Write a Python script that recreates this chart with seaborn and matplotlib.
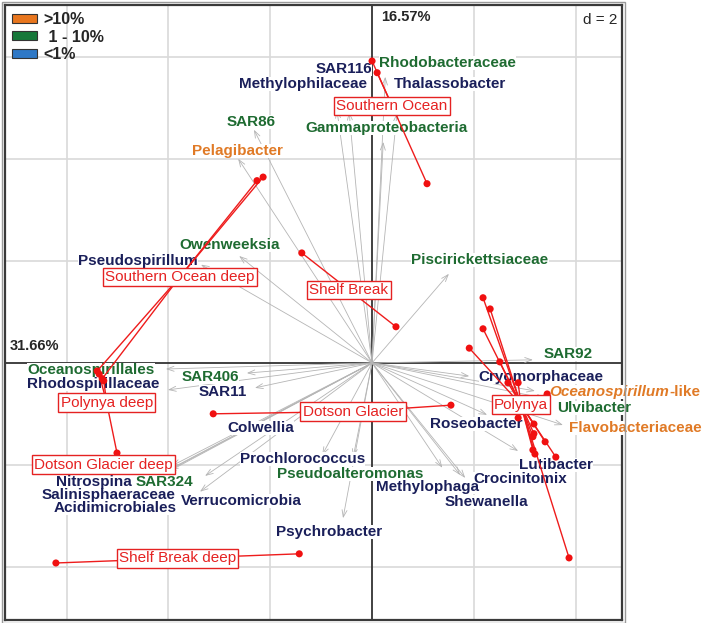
import numpy as np
import pandas as pd
import matplotlib
matplotlib.use("Agg")
import matplotlib.pyplot as plt
import seaborn as sns
from matplotlib.patches import Patch, Rectangle
from matplotlib.offsetbox import TextArea, HPacker, AnnotationBbox

# ---------------------------
# 1. Data (PCA scores, grid step d = 2)
# ---------------------------
taxa = ["SAR116", "Methylophilaceae", "Rhodobacteraceae", "Thalassobacter",
        "Gammaproteobacteria", "SAR86", "Pelagibacter", "Owenweeksia",
        "Pseudospirillum", "Piscirickettsiaceae", "Oceanospirillales",
        "Rhodospirillaceae", "SAR406", "SAR11", "SAR92", "Cryomorphaceae",
        "Oceanospirillum-like", "Ulvibacter", "Roseobacter", "Flavobacteriaceae",
        "Lutibacter", "Crocinitomix", "Shewanella", "Methylophaga",
        "Prochlorococcus", "Pseudoalteromonas", "Colwellia", "Verrucomicrobia",
        "Nitrospina", "SAR324", "Salinisphaeraceae", "Acidimicrobiales",
        "Psychrobacter"]
abundance = ["<1%", "<1%", "1 - 10%", "<1%",
             "1 - 10%", "1 - 10%", ">10%", "1 - 10%",
             "<1%", "1 - 10%", "1 - 10%",
             "<1%", "1 - 10%", "<1%", "1 - 10%", "<1%",
             ">10%", "1 - 10%", "<1%", ">10%",
             "<1%", "<1%", "<1%", "<1%",
             "<1%", "1 - 10%", "<1%", "<1%",
             "<1%", "1 - 10%", "<1%", "<1%",
             "<1%"]
# arrow tips
arrow_x = [-0.45, -0.69, 0.26, 0.49, 0.22, -2.32, -2.63, -2.61, -3.36, 1.51,
           -4.05, -4.01, -2.46, -2.30, 3.16, 1.91, 3.20, 3.40, 2.26, 3.75,
           2.87, 1.83, 1.73, 1.38, -0.98, -0.37, -3.28, -3.38, -3.97, -4.11,
           -3.93, -4.01, -0.57]
arrow_y = [4.93, 4.97, 5.62, 4.91, 4.34, 4.58, 4.01, 2.10, 1.93, 1.75,
           -0.12, -0.53, -0.20, -0.49, 0.06, -0.26, -0.55, -0.70, -1.02, -1.22,
           -1.73, -2.26, -2.20, -2.06, -1.81, -1.85, -2.22, -2.53, -2.10, -2.16,
           -2.02, -2.14, -3.05]
# label centres
label_x = [-0.55, -1.36, 1.49, 1.53, 0.28, -2.38, -2.65, -2.79, -4.60, 2.12,
           -5.52, -5.48, -3.18, -2.93, 3.85, 3.32, 4.97, 4.36, 2.04, 5.17,
           3.61, 2.91, 2.24, 1.08, -1.36, -0.43, -2.18, -2.57, -5.46, -4.07,
           -5.17, -5.05, -0.84]
label_y = [5.78, 5.48, 5.89, 5.48, 4.62, 4.73, 4.17, 2.32, 2.00, 2.02,
           -0.14, -0.41, -0.28, -0.57, 0.18, -0.28, -0.57, -0.88, -1.20, -1.28,
           -2.00, -2.28, -2.73, -2.44, -1.89, -2.19, -1.28, -2.71, -2.34, -2.34,
           -2.59, -2.85, -3.32]

site_group = (["Southern Ocean"] * 3 + ["Southern Ocean deep"] * 4
              + ["Shelf Break"] * 2 + ["Shelf Break deep"] * 2
              + ["Polynya"] * 17 + ["Polynya deep"] * 3
              + ["Dotson Glacier"] * 3 + ["Dotson Glacier deep"])
site_x = [0.00, 0.10, 1.08,
          -2.26, -2.14, -5.40, -5.30,
          -1.38, 0.47,
          -6.21, -1.43,
          2.18, 2.32, 2.18, 1.91, 2.51, 2.67, 2.87, 3.44, 2.87, 3.18, 3.18,
          3.16, 3.40, 3.61, 3.16, 3.20, 3.87,
          -5.36, -5.27, -5.01,
          -3.12, 1.55, 0.45,
          -5.27]
site_y = [5.93, 5.70, 3.52,
          3.58, 3.65, -0.16, -0.31,
          2.16, 0.71,
          -3.93, -3.75,
          1.28, 1.06, 0.67, 0.29, 0.02, -0.39, -0.39, -0.61, -1.08, -1.20, -1.39,
          -1.45, -1.55, -1.85, -1.71, -1.79, -3.83,
          -0.22, -0.35, -1.77,
          -1.00, -0.83, -1.04,
          -2.00]

legend_labels = [">10%", " 1 - 10%", "<1%"]
legend_fill = ["#E8761E", "#17783A", "#2E78C6"]
text_colors = {">10%": "#E07A26", "1 - 10%": "#1E6B31", "<1%": "#1A1F5A"}

taxa_df = pd.DataFrame({"taxon": taxa, "abund": abundance,
                        "ax": arrow_x, "ay": arrow_y,
                        "lx": label_x, "ly": label_y})
sites = pd.DataFrame({"group": site_group, "x": site_x, "y": site_y})
centres = sites.groupby("group", sort=False)[["x", "y"]].mean()

# ---------------------------
# 2. Plot
# ---------------------------
sns.set_style("white")
plt.rcParams["font.family"] = ["Liberation Sans", "DejaVu Sans"]

fig = plt.figure(figsize=(7.08, 6.23), dpi=100)
ax = fig.add_axes([5 / 708, 3 / 623, 617 / 708, 615 / 623])
ax.set_xlim(-7.21, 4.91)
ax.set_ylim(-5.05, 7.03)
ax.set_xticks([])
ax.set_yticks([])
for sp in ax.spines.values():
    sp.set_color("#3a3a3a")
    sp.set_linewidth(1.6)

# outer frame line
fig.patches.append(Rectangle((1.5 / 708, 0.5 / 623), 623 / 708, 621 / 623,
                             transform=fig.transFigure, fill=False,
                             edgecolor="#9a9a9a", linewidth=1.0))

for g in [-6, -4, -2, 2, 4]:
    ax.axvline(g, color="#d9d9d9", lw=1.2, zorder=0.5)
for g in [-4, -2, 2, 4, 6]:
    ax.axhline(g, color="#d9d9d9", lw=1.2, zorder=0.5)
ax.axvline(0, color="#333333", lw=1.3, zorder=1)
ax.axhline(0, color="#333333", lw=1.3, zorder=1)

# taxa arrows
for _, r in taxa_df.iterrows():
    ax.annotate("", xy=(r["ax"], r["ay"]), xytext=(0, 0),
                arrowprops=dict(arrowstyle="->,head_length=0.5,head_width=0.18",
                                color="#b5b5b5", lw=0.6,
                                shrinkA=0, shrinkB=0, mutation_scale=10),
                zorder=2)

# taxa labels: white backgrounds first, then the words on top
for _, r in taxa_df.iterrows():
    col = text_colors[r["abund"]]
    for layer, z in [("bg", 2.8), ("fg", 3.0)]:
        tc = (0, 0, 0, 0) if layer == "bg" else col
        if r["taxon"] == "Oceanospirillum-like":
            p1 = TextArea("Oceanospirillum", textprops=dict(color=tc, fontsize=11,
                                                           weight="bold", style="italic"))
            p2 = TextArea("-like", textprops=dict(color=tc, fontsize=11, weight="bold"))
            box = HPacker(children=[p1, p2], align="baseline", pad=0, sep=0)
            ab = AnnotationBbox(box, (r["lx"], r["ly"]), frameon=(layer == "bg"), pad=0.0,
                                bboxprops=dict(facecolor="white", edgecolor="none"),
                                annotation_clip=False, zorder=z)
            ax.add_artist(ab)
        elif layer == "bg":
            ax.text(r["lx"], r["ly"], r["taxon"], color=tc, fontsize=11, weight="bold",
                    ha="center", va="center", zorder=z, clip_on=False,
                    bbox=dict(boxstyle="square,pad=0", facecolor="white", edgecolor="none"))
        else:
            ax.text(r["lx"], r["ly"], r["taxon"], color=tc, fontsize=11, weight="bold",
                    ha="center", va="center", zorder=z, clip_on=False)

# sites: star lines to group centres
red = "#EE1C1C"
for _, r in sites.iterrows():
    cx, cy = centres.loc[r["group"]]
    ax.plot([cx, r["x"]], [cy, r["y"]], color=red, lw=1.0, zorder=4)
sns.scatterplot(data=sites, x="x", y="y", color="#F01010", s=26,
                edgecolor="none", ax=ax, zorder=5, legend=False)
ax.set_xlabel("")
ax.set_ylabel("")

for name, r in centres.iterrows():
    ax.text(r["x"], r["y"], name, color="#E52222", fontsize=11,
            ha="center", va="center", zorder=6,
            bbox=dict(boxstyle="square,pad=0.15", facecolor="white",
                      edgecolor="#E52222", linewidth=1.0))

# axis inertia labels and scale
ax.text(0.18, 6.80, "16.57%", fontsize=10.5, weight="bold", ha="left", va="center")
ax.text(-7.11, 0.33, "31.66%", fontsize=10.5, weight="bold", ha="left", va="center")
ax.text(0.992, 0.987, "d = 2", transform=ax.transAxes, fontsize=11,
        ha="right", va="top", zorder=3,
        bbox=dict(boxstyle="square,pad=0.1", facecolor="white", edgecolor="none"))

# abundance legend
handles = [Patch(facecolor=c, edgecolor="#333333", linewidth=0.8, label=l)
           for c, l in zip(legend_fill, legend_labels)]
ax.legend(handles=handles, loc="upper left", bbox_to_anchor=(0.012, 0.988),
          frameon=False, prop=dict(weight="bold", size=11.5),
          handlelength=1.55, handleheight=0.5, labelspacing=0.14,
          handletextpad=0.4, borderpad=0, borderaxespad=0)

fig.savefig("out.png", dpi=100)
